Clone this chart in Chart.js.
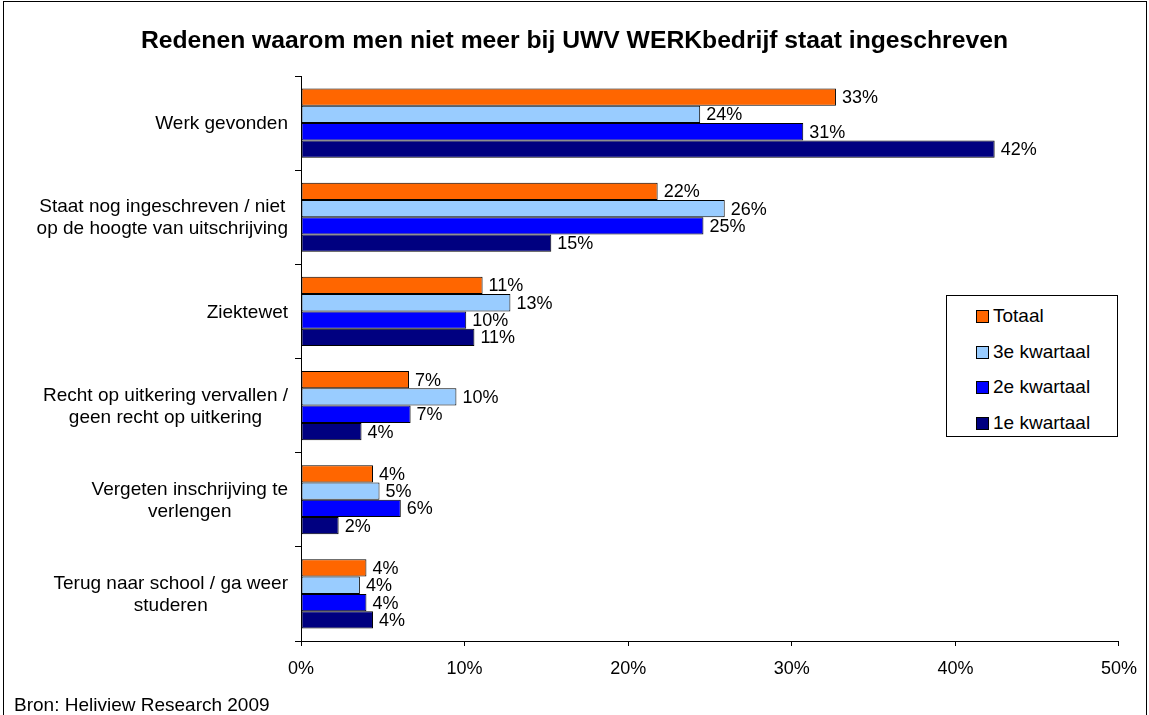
<!DOCTYPE html>
<html>
<head>
<meta charset="utf-8">
<script src="https://cdn.jsdelivr.net/npm/chart.js@4"></script>
<style>
  body { margin: 0; background: #fff; font-family: "Liberation Sans", Arial, sans-serif; }
  #wrap { position: relative; width: 1149px; height: 715px; overflow: hidden; }
  #frame { position: absolute; left: 3px; top: 1px; width: 1142px; height: 730px; border: 1px solid #000; }
  #title { position: absolute; left: 0; top: 26px; width: 1149px; text-align: center; font-weight: bold; font-size: 24.7px; color: #000; }
  #legend { position: absolute; left: 946px; top: 295px; width: 170px; height: 140px; border: 1px solid #000; background: #fff; }
  #legend div { position: absolute; left: 29px; font-size: 19px; color: #000; line-height: 22px; white-space: nowrap; }
  #legend span { display: inline-block; width: 11px; height: 11px; border: 1px solid #000; margin-right: 4px; vertical-align: -1px; }
  #source { position: absolute; left: 14px; top: 694px; font-size: 19px; color: #000; }
  canvas { position: absolute; left: 0; top: 0; }
</style>
</head>
<body>
<div id="wrap">
  <div id="frame"></div>
  <canvas id="chart" width="1149" height="715"></canvas>
  <div id="title">Redenen waarom men niet meer bij UWV WERKbedrijf staat ingeschreven</div>
  <div id="legend"></div>
  <div id="source">Bron: Heliview Research 2009</div>
</div>
<script>
var categories = [
  ["Werk gevonden"],
  ["Staat nog ingeschreven / niet", "op de hoogte van uitschrijving"],
  ["Ziektewet"],
  ["Recht op uitkering vervallen /", "geen recht op uitkering"],
  ["Vergeten inschrijving te", "verlengen"],
  ["Terug naar school / ga weer", "studeren"]
];
var seriesNames = ["Totaal", "3e kwartaal", "2e kwartaal", "1e kwartaal"];
var seriesColors = ["#FF6600", "#99CCFF", "#0000FF", "#000080"];
var totaal = [32.7, 21.8, 11.1, 6.6, 4.4, 4.0];
var kwartaal3 = [24.4, 25.9, 12.8, 9.5, 4.8, 3.6];
var kwartaal2 = [30.7, 24.6, 10.1, 6.7, 6.1, 4.0];
var kwartaal1 = [42.4, 15.3, 10.6, 3.7, 2.3, 4.4];
var xTicks = [0, 10, 20, 30, 40, 50];

var allSeries = [totaal, kwartaal3, kwartaal2, kwartaal1];
var FONT = "Liberation Sans, Arial, sans-serif";

// legend in html
var leg = document.getElementById('legend');
for (var i = 0; i < seriesNames.length; i++) {
  var d = document.createElement('div');
  d.style.top = (9 + i * 35.5) + 'px';
  d.innerHTML = '<span style="background:' + seriesColors[i] + '"></span>' + seriesNames[i];
  leg.appendChild(d);
}

var datasets = [];
for (var i = 0; i < allSeries.length; i++) {
  datasets.push({
    label: seriesNames[i],
    data: allSeries[i],
    backgroundColor: seriesColors[i],
    borderColor: "#000",
    borderWidth: 1,
    borderSkipped: false,
    categoryPercentage: 0.735,
    barPercentage: 1.0
  });
}

// value labels right of each bar
var valueLabels = {
  id: 'valueLabels',
  afterDatasetsDraw: function (chart) {
    var ctx = chart.ctx;
    ctx.save();
    ctx.font = "18px " + FONT;
    ctx.fillStyle = "#000";
    ctx.textAlign = "left";
    ctx.textBaseline = "middle";
    chart.data.datasets.forEach(function (ds, di) {
      chart.getDatasetMeta(di).data.forEach(function (bar, j) {
        ctx.fillText(Math.round(ds.data[j]) + "%", bar.x + 6, bar.y + 1);
      });
    });
    ctx.restore();
  }
};

// category labels: block right aligned, lines centered
var catLabels = {
  id: 'catLabels',
  afterDraw: function (chart) {
    var ctx = chart.ctx;
    var y = chart.scales.y;
    ctx.save();
    ctx.font = "19px " + FONT;
    ctx.fillStyle = "#000";
    ctx.textAlign = "center";
    ctx.textBaseline = "middle";
    var lh = 22;
    categories.forEach(function (lines, i) {
      var w = 0;
      lines.forEach(function (l) { w = Math.max(w, ctx.measureText(l).width); });
      var cx = 288 - w / 2;
      var cy = y.getPixelForValue(i) + 1;
      var y0 = cy - (lines.length - 1) * lh / 2;
      lines.forEach(function (l, k) { ctx.fillText(l, cx, y0 + k * lh); });
    });
    ctx.restore();
  }
};

new Chart(document.getElementById('chart'), {
  type: 'bar',
  data: {
    labels: categories.map(function (c) { return c.join(' '); }),
    datasets: datasets
  },
  options: {
    indexAxis: 'y',
    responsive: false,
    animation: false,
    layout: { padding: { top: 76, right: 30, left: 0, bottom: 0 } },
    plugins: {
      legend: { display: false },
      title: { display: false },
      tooltip: { enabled: false }
    },
    scales: {
      x: {
        min: 0,
        max: 50,
        afterBuildTicks: function (s) { s.ticks = xTicks.map(function (v) { return { value: v }; }); },
        afterFit: function (s) { s.height = 74; },
        border: { color: "#000", width: 1 },
        grid: { display: true, drawOnChartArea: false, drawTicks: true, tickLength: 5, color: "#000" },
        ticks: {
          color: "#000",
          font: { family: FONT, size: 18 },
          padding: 12,
          callback: function (v) { return v + "%"; }
        }
      },
      y: {
        afterFit: function (s) { s.width = 301; },
        border: { color: "#000", width: 1 },
        grid: { display: true, offset: true, drawOnChartArea: false, drawTicks: true, tickLength: 6, color: "#000" },
        ticks: { display: false }
      }
    }
  },
  plugins: [valueLabels, catLabels]
});
</script>
</body>
</html>
